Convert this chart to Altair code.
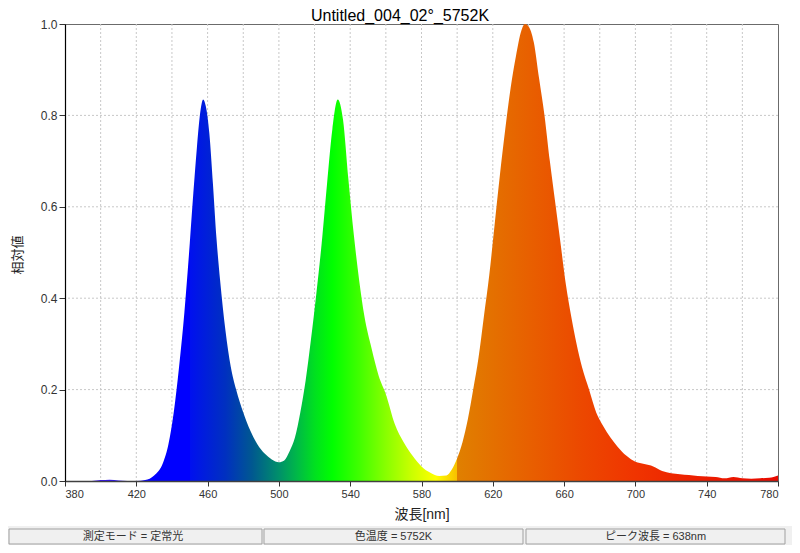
import altair as alt
import pandas as pd

# ---------------- data ----------------
wavelength = [380, 385, 390, 395, 400, 405, 410, 415, 420, 425, 430, 435, 438, 441, 444, 447,
              450, 452, 454, 456, 457.5, 459, 461, 463, 465, 467, 470, 473, 476, 480, 484, 488,
              492, 496, 500, 503, 506, 509, 512, 515, 518, 521, 524, 527, 530, 533, 536, 539,
              542, 545, 548, 552, 556, 560, 565, 570, 575, 580, 585, 590, 594, 597, 600, 603,
              606, 609, 612, 615, 618, 621, 624, 627, 630, 633, 636, 638, 640, 643, 646, 649,
              652, 655, 658, 661, 664, 667, 670, 674, 678, 682, 686, 690, 695, 700, 705, 710,
              715, 720, 725, 730, 735, 740, 745, 750, 755, 760, 765, 770, 775, 780]
intensity = [0.0, 0.0, 0.0, 0.0, 0.002, 0.003, 0.001, 0.0, 0.0, 0.002, 0.012, 0.04, 0.08, 0.15, 0.25, 0.37,
             0.52, 0.63, 0.73, 0.81, 0.835, 0.82, 0.76, 0.65, 0.53, 0.44, 0.33, 0.25, 0.2, 0.15, 0.11, 0.08,
             0.06, 0.047, 0.041, 0.045, 0.065, 0.095, 0.15, 0.22, 0.31, 0.41, 0.52, 0.65, 0.77, 0.835, 0.79, 0.66,
             0.54, 0.44, 0.36, 0.29, 0.23, 0.19, 0.125, 0.085, 0.055, 0.032, 0.018, 0.011, 0.012, 0.025, 0.05, 0.085,
             0.135, 0.2, 0.27, 0.36, 0.45, 0.56, 0.67, 0.77, 0.86, 0.93, 0.985, 1.0, 0.995, 0.96, 0.88, 0.8,
             0.7, 0.61, 0.52, 0.43, 0.36, 0.3, 0.25, 0.2, 0.15, 0.12, 0.095, 0.075, 0.055, 0.042, 0.037, 0.032,
             0.022, 0.017, 0.015, 0.013, 0.011, 0.01, 0.009, 0.006, 0.009, 0.006, 0.005, 0.006, 0.007, 0.012]

x_ticks = [380, 420, 460, 500, 540, 580, 620, 660, 700, 740, 780]
x_grid = [400, 420, 440, 460, 480, 500, 520, 540, 560, 580, 600, 620, 640, 660, 680, 700, 720, 740, 760]
y_ticks = [0.0, 0.2, 0.4, 0.6, 0.8, 1.0]
y_grid = [0.2, 0.4, 0.6, 0.8]

title_text = "Untitled_004_02°_5752K"
x_title = "波長[nm]"
y_title = "相対値"
status_labels = ["測定モード = 定常光", "色温度 = 5752K", "ピーク波長 = 638nm"]

# spectral colour stops (wavelength, colour)
grad_wl = [380, 430, 449.9, 450, 470, 485, 500, 510, 520, 530, 545, 560, 575, 588, 599.9, 600,
           640, 670, 700, 740, 780]
grad_colors = ["#5a1aff", "#0000ff", "#0000ff", "#0010f0", "#0030c0", "#005890", "#00906a", "#00b848",
               "#00e020", "#00ff00", "#40ff00", "#88ff00", "#ccff00", "#ffff00", "#f8c000", "#e08000",
               "#e86000", "#ec4800", "#f03400", "#ec1c00", "#e80a00"]

# ---------------- layout ----------------
W, H = 713, 457
FONT = "Liberation Sans, Noto Sans CJK JP, sans-serif"
XMIN, XMAX = 380, 780

spec_df = pd.DataFrame({"wl": wavelength, "val": intensity})
xg_df = pd.DataFrame({"wl": x_grid})
yg_df = pd.DataFrame({"val": y_grid})
one = pd.DataFrame({"k": [0]})

xscale = alt.Scale(domain=[XMIN, XMAX], nice=False, zero=False)
yscale = alt.Scale(domain=[0, 1], nice=False)

x_axis = alt.Axis(values=x_ticks, title=x_title, grid=False, tickSize=5, labelPadding=2,
                  labelFont=FONT, labelFontSize=11, labelColor="#333333",
                  tickColor="#333333", domainColor="#404040", domainWidth=1.5,
                  titleFont=FONT, titleFontSize=14, titleFontWeight="normal", titleColor="#222222",
                  titleX=W / 2, titleY=33, titleBaseline="middle", zindex=1)
y_axis = alt.Axis(values=y_ticks, format=".1f", title=y_title, grid=False, tickSize=6, labelPadding=2,
                  labelFont=FONT, labelFontSize=12, labelColor="#333333",
                  tickColor="#333333", domainColor="#000000", domainWidth=1.2,
                  titleFont=FONT, titleFontSize=13, titleFontWeight="normal", titleColor="#222222",
                  titleX=-48, titleY=H / 2 + 2, titleAngle=-90, titleBaseline="middle", zindex=1)

stops = [alt.GradientStop(offset=(w - XMIN) / (XMAX - XMIN), color=c) for w, c in zip(grad_wl, grad_colors)]
grad = alt.LinearGradient(gradient="linear", stops=stops, x1=0, x2=1, y1=0, y2=0)

vgrid = alt.Chart(xg_df).mark_rule(color="#c8c8c8", strokeDash=[2, 2], strokeWidth=1).encode(
    x=alt.X("wl:Q", scale=xscale, axis=x_axis)
)
hgrid = alt.Chart(yg_df).mark_rule(color="#c8c8c8", strokeDash=[2, 2], strokeWidth=1).encode(
    y=alt.Y("val:Q", scale=yscale, axis=y_axis)
)

area = alt.Chart(spec_df).mark_area(interpolate="monotone", color=grad, line=False).encode(
    x=alt.X("wl:Q", scale=xscale, axis=x_axis),
    y=alt.Y("val:Q", scale=yscale, axis=y_axis),
)

title_mark = alt.Chart(one).mark_text(font=FONT, fontSize=16, color="#000000", align="center",
                                      baseline="top").encode(
    x=alt.value(335), y=alt.value(-16), text=alt.value(title_text)
)

# status bar
band = alt.Chart(one).mark_rect(color="#f0f0f0").encode(
    x=alt.value(-60), x2=alt.value(730), y=alt.value(502), y2=alt.value(530)
)
box_x = [(-56, 197), (199, 458), (461, 720)]
status_layers = [band]
for (a, b), lab in zip(box_x, status_labels):
    status_layers.append(
        alt.Chart(one).mark_rect(fill="#f0f0f0", stroke="#a0a0a0", strokeWidth=1).encode(
            x=alt.value(a), x2=alt.value(b), y=alt.value(505), y2=alt.value(520)
        )
    )
    status_layers.append(
        alt.Chart(one).mark_text(font=FONT, fontSize=11, color="#333333", align="center",
                                 baseline="middle").encode(
            x=alt.value((a + b) / 2 if a > -56 else 68), y=alt.value(512.5), text=alt.value(lab)
        )
    )

chart = alt.layer(vgrid, hgrid, area, title_mark, *status_layers).properties(
    width=W, height=H,
    autosize=alt.AutoSizeParams(type="none"),
    padding={"left": 57, "top": 16, "right": 14, "bottom": 64},
    background="white",
).configure_view(stroke="#6b6b6b", strokeWidth=1)

chart.save("out.html", embed_options={"renderer": "svg", "actions": False})
